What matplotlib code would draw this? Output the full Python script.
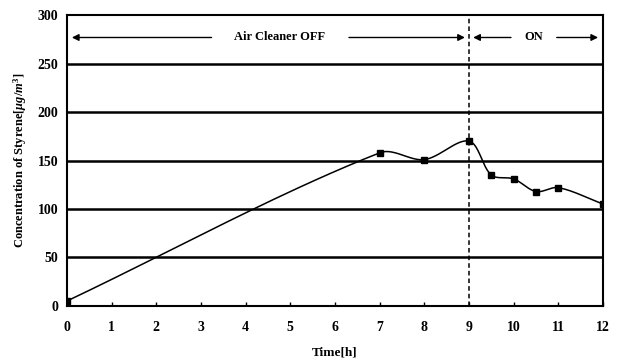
import numpy as np
import matplotlib.pyplot as plt

# measured styrene concentration
time_h = [0, 7, 8, 9, 9.5, 10, 10.5, 11, 12]
styrene = [5, 158, 151, 170, 135, 131, 118, 122, 105]
xticks = list(range(0, 13))
yticks = [0, 50, 100, 150, 200, 250, 300]


def smooth(x, y, sx=1 / 12, sy=1 / 300 * 0.54, n=40):
    # chord-length Catmull-Rom (Hermite) curve through the points
    x = np.asarray(x, float)
    y = np.asarray(y, float)
    u, v = x * sx, y * sy
    d = np.hypot(np.diff(u), np.diff(v))
    t = np.concatenate([[0], np.cumsum(d)])
    mx, my = np.zeros_like(x), np.zeros_like(y)
    for i in range(len(x)):
        a, b = max(i - 1, 0), min(i + 1, len(x) - 1)
        mx[i] = (x[b] - x[a]) / (t[b] - t[a])
        my[i] = (y[b] - y[a]) / (t[b] - t[a])
    xs, ys = [], []
    s = np.linspace(0, 1, n)
    h00 = 2 * s ** 3 - 3 * s ** 2 + 1
    h10 = s ** 3 - 2 * s ** 2 + s
    h01 = -2 * s ** 3 + 3 * s ** 2
    h11 = s ** 3 - s ** 2
    for i in range(len(x) - 1):
        h = t[i + 1] - t[i]
        xs.append(h00 * x[i] + h10 * h * mx[i] + h01 * x[i + 1] + h11 * h * mx[i + 1])
        ys.append(h00 * y[i] + h10 * h * my[i] + h01 * y[i + 1] + h11 * h * my[i + 1])
    return np.concatenate(xs), np.concatenate(ys)


plt.rcParams['font.family'] = 'Liberation Serif'
plt.rcParams['mathtext.fontset'] = 'custom'
plt.rcParams['mathtext.it'] = 'Liberation Serif:italic:bold'
plt.rcParams['mathtext.rm'] = 'Liberation Serif:bold'

fig, ax = plt.subplots(figsize=(6.25, 3.62), dpi=100)
fig.subplots_adjust(left=0.107, right=0.965, top=0.958, bottom=0.155)

for v in yticks[1:-1]:
    ax.axhline(v, color='black', lw=1.8, zorder=1)

sx, sy = smooth(time_h, styrene)
ax.plot(sx, sy, color='black', lw=1.1, zorder=3)
ax.plot(time_h, styrene, 's', color='black', ms=5, zorder=4)

ax.axvline(9, color='black', lw=1.1, ls=(0, (3, 2)), zorder=2)

# air cleaner state bands
arrow = dict(arrowstyle='-|>', color='black', lw=1.0, mutation_scale=10)
ay = 277
ax.annotate('', xy=(0.05, ay), xytext=(3.3, ay), arrowprops=arrow)
ax.annotate('', xy=(8.97, ay), xytext=(6.25, ay), arrowprops=arrow)
ax.text(4.75, ay, 'Air Cleaner OFF', ha='center', va='center',
        fontsize=9, fontweight='bold')
ax.annotate('', xy=(9.03, ay), xytext=(10.0, ay), arrowprops=arrow)
ax.annotate('', xy=(11.95, ay), xytext=(10.9, ay), arrowprops=arrow)
ax.text(10.45, ay, 'ON', ha='center', va='center',
        fontsize=9, fontweight='bold')

ax.set_xlim(0, 12)
ax.set_ylim(0, 300)
ax.set_xticks(xticks)
ax.set_yticks(yticks)
ax.tick_params(axis='x', direction='in', length=3, width=1, pad=11,
               labelsize=10)
ax.tick_params(axis='y', length=0, pad=6, labelsize=10)
for lab in ax.get_xticklabels() + ax.get_yticklabels():
    lab.set_fontweight('bold')
for s in ax.spines.values():
    s.set_linewidth(1.5)

ax.set_xlabel('Time[h]', fontsize=9.5, fontweight='bold', labelpad=9)
ax.set_ylabel(r'Concentration of Styrene[$\mu g/m^3$]', fontsize=9,
              fontweight='bold', labelpad=6)

fig.savefig('out.png', dpi=100)
